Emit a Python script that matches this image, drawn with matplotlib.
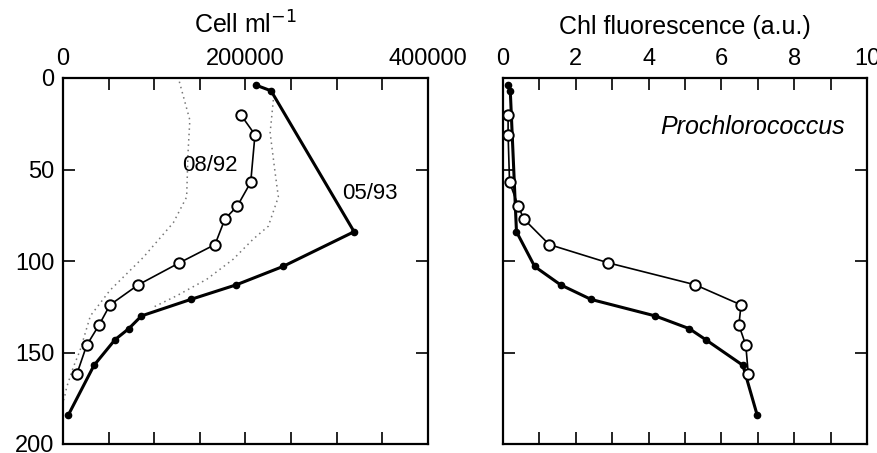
import matplotlib

matplotlib.use("Agg")
import matplotlib.pyplot as plt  # noqa: E402
from matplotlib.ticker import MultipleLocator  # noqa: E402

plt.rcParams["font.family"] = ["Liberation Sans", "DejaVu Sans"]

# 05/93 profile (filled dots)
may93_depth = [4, 7, 84, 103, 113, 121, 130, 137, 143, 157, 184]
may93_cells = [212000, 228000, 319000, 241000, 190000, 140000, 86000, 72000, 57000, 34000, 6000]
may93_chl = [0.15, 0.2, 0.37, 0.87, 1.58, 2.42, 4.18, 5.12, 5.57, 6.59, 6.98]

# 08/92 profile (open circles)
aug92_depth = [20, 31, 57, 70, 77, 91, 101, 113, 124, 135, 146, 162]
aug92_cells = [194700, 210400, 205700, 191000, 177500, 166600, 127500, 82500, 51500, 39500, 26000, 15000]
aug92_chl = [0.14, 0.14, 0.18, 0.42, 0.57, 1.27, 2.89, 5.28, 6.54, 6.48, 6.67, 6.74]

# dotted envelopes on the cell panel
env_low_depth = [2, 23, 41, 65, 79, 98, 116, 130, 149, 158, 169, 176]
env_low_cells = [127500, 139000, 137000, 135500, 121000, 88000, 51500, 30000, 18600, 11300, 4000, 1000]
env_high_depth = [12, 30, 50, 65, 81, 88, 99, 110, 119, 125]
env_high_cells = [230500, 227000, 232000, 236000, 225000, 208500, 186600, 157500, 124600, 100000]

fig = plt.figure(figsize=(8.78, 4.53), dpi=100)
ax_cell = fig.add_axes([63 / 878, 9 / 453, 365 / 878, 366 / 453])
ax_chl = fig.add_axes([503 / 878, 9 / 453, 364 / 878, 366 / 453])

filled_kw = dict(color="black", linewidth=2.2, marker="o", markersize=4.5, markerfacecolor="black")
open_kw = dict(color="black", linewidth=1.2, marker="o", markersize=7.5, markerfacecolor="white",
               markeredgewidth=1.4)

ax_cell.plot(env_low_cells, env_low_depth, color="#777777", linestyle=(0, (1, 2.5)), linewidth=1.1)
ax_cell.plot(env_high_cells, env_high_depth, color="#777777", linestyle=(0, (1, 2.5)), linewidth=1.1)
ax_cell.plot(may93_cells, may93_depth, **filled_kw)
ax_cell.plot(aug92_cells, aug92_depth, **open_kw)
ax_cell.text(161000, 48, "08/92", fontsize=16, ha="center", va="center")
ax_cell.text(336000, 63, "05/93", fontsize=16, ha="center", va="center")

ax_chl.plot(may93_chl, may93_depth, **filled_kw)
ax_chl.plot(aug92_chl, aug92_depth, **open_kw)
ax_chl.text(9.4, 27, "Prochlorococcus", fontsize=18, style="italic", ha="right", va="center")

for ax in (ax_cell, ax_chl):
    ax.set_ylim(200, 0)
    ax.xaxis.set_ticks_position("top")
    ax.tick_params(axis="both", which="both", direction="in", top=True, bottom=True,
                   left=True, right=True, labelsize=17, pad=6, length=8.5, width=1.2)
    ax.yaxis.set_major_locator(MultipleLocator(50))
    for spine in ax.spines.values():
        spine.set_linewidth(1.6)

ax_cell.set_xlim(0, 400000)
ax_cell.xaxis.set_major_locator(MultipleLocator(200000))
ax_cell.xaxis.set_minor_locator(MultipleLocator(50000))
ax_cell.set_title("Cell ml$^{-1}$", fontsize=18, pad=32)

ax_chl.set_xlim(0, 10)
ax_chl.xaxis.set_major_locator(MultipleLocator(2))
ax_chl.xaxis.set_minor_locator(MultipleLocator(1))
ax_chl.tick_params(axis="y", labelleft=False)
ax_chl.set_title("Chl fluorescence (a.u.)", fontsize=18, pad=32)

fig.savefig("out.png", dpi=100)
